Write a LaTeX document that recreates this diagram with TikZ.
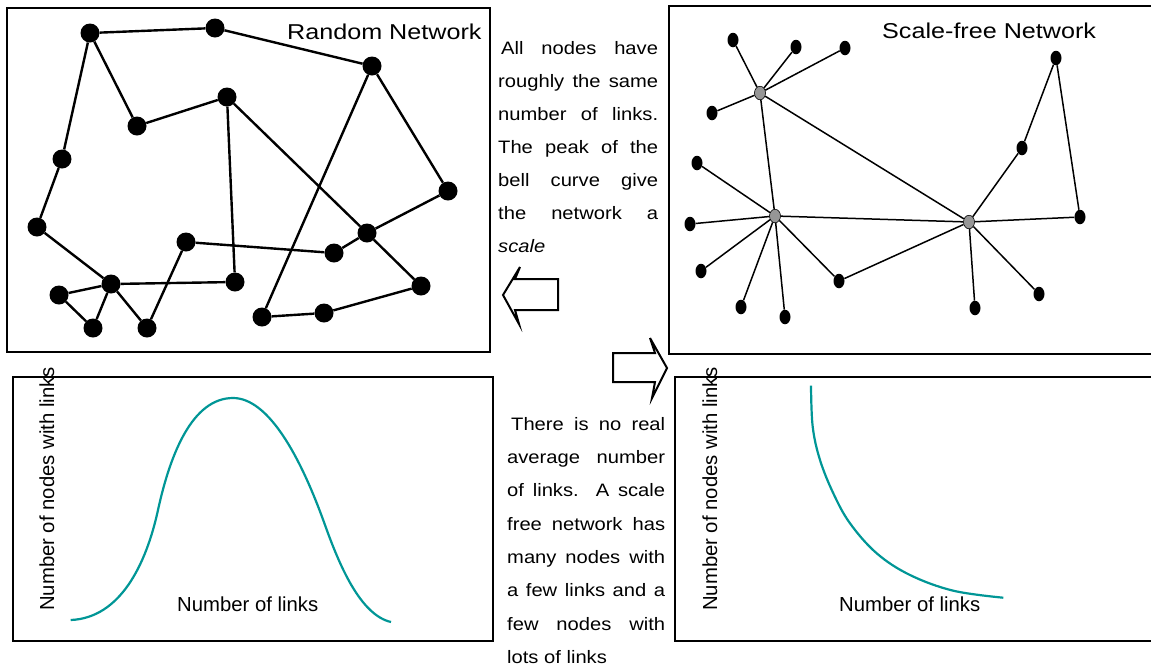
\documentclass[tikz,border=0pt]{standalone}
\usepackage{fontspec}
\setmainfont{Liberation Sans}
\usetikzlibrary{shapes.geometric}
\definecolor{curveteal}{RGB}{0,150,150}
\definecolor{hubgray}{RGB}{150,150,150}
\newcommand\tline[2]{\scalebox{1.12}[1]{\makebox[#1][s]{#2}}}
\begin{document}
\begin{tikzpicture}[x=1pt,y=-1pt,
  panel/.style={draw=black,line width=2pt},
  rnode/.style={circle,fill=black,inner sep=0pt,minimum size=19pt},
  redge/.style={line width=2.4pt},
  snode/.style={ellipse,fill=black,inner sep=0pt,minimum width=11pt,minimum height=14.5pt},
  hub/.style={ellipse,fill=hubgray,draw=black,line width=0.6pt,inner sep=0pt,minimum width=11pt,minimum height=13.5pt},
  sedge/.style={line width=1.5pt},
  curvest/.style={draw=curveteal,line width=2.2pt},
  title/.style={anchor=base west,inner sep=0pt,font=\fontsize{21.5}{25}\selectfont},
  txt/.style={anchor=base west,inner sep=0pt,font=\fontsize{18}{20}\selectfont},
  axis/.style={anchor=base west,inner sep=0pt,font=\fontsize{20.3}{24}\selectfont},
  blockarrow/.style={draw=black,line width=2pt,fill=white,line join=miter}
]
\useasboundingbox (0,0) rectangle (1151,665);
\fill[white] (0,0) rectangle (1151,665);

% panels
\draw[panel] (7,8) rectangle (490,352);
\draw[panel] (669,6) rectangle (1156,354);
\draw[panel] (13,377) rectangle (493,641);
\draw[panel] (675,377) rectangle (1156,641);

% titles
\node[title] (t1) at (287,39) {\scalebox{1.17}[1]{Random Network}};
\node[title] (t2) at (882,38) {\scalebox{1.17}[1]{Scale-free Network}};

% random network
\node[rnode] (ra) at (90,33) {};
\node[rnode] (rb) at (215,28) {};
\node[rnode] (rc) at (372,66) {};
\node[rnode] (rd) at (227,97) {};
\node[rnode] (re) at (137,126) {};
\node[rnode] (rf) at (62,159) {};
\node[rnode] (rg) at (448,191) {};
\node[rnode] (rh) at (37,227) {};
\node[rnode] (ri) at (367,233) {};
\node[rnode] (rj) at (186,242) {};
\node[rnode] (rk) at (334,253) {};
\node[rnode] (rl) at (111,284) {};
\node[rnode] (rm) at (235,282) {};
\node[rnode] (rn) at (421,286) {};
\node[rnode] (ro) at (59,295) {};
\node[rnode] (rp) at (93,328) {};
\node[rnode] (rq) at (147,328) {};
\node[rnode] (rr) at (262,317) {};
\node[rnode] (rs) at (324,313) {};
\foreach \u/\v in {ra/rb,rb/rc,ra/rf,ra/re,re/rd,rd/rm,rd/ri,rc/rg,rc/rr,rg/ri,ri/rk,ri/rn,rk/rj,rj/rq,rf/rh,rh/rl,rl/rm,rl/ro,rl/rp,rl/rq,ro/rp,rn/rs,rs/rr}
  \draw[redge] (\u) -- (\v);

% scale-free network
\node[hub] (h1) at (760,93) {};
\node[hub] (h2) at (775,216) {};
\node[hub] (h3) at (969,222) {};
\node[snode] (a1) at (733,40) {};
\node[snode] (a2) at (796,47) {};
\node[snode] (a3) at (845,48) {};
\node[snode] (a4) at (712,113) {};
\node[snode] (b1) at (697,163) {};
\node[snode] (b2) at (690,224) {};
\node[snode] (b3) at (701,271) {};
\node[snode] (b4) at (741,307) {};
\node[snode] (b5) at (785,317) {};
\node[snode] (c1) at (839,281) {};
\node[snode] (d1) at (1022,148) {};
\node[snode] (d2) at (1056,58) {};
\node[snode] (d3) at (1080,217) {};
\node[snode] (e1) at (975,308) {};
\node[snode] (e2) at (1039,294) {};
\foreach \u/\v in {h1/a1,h1/a2,h1/a3,h1/a4,h1/h2,h1/h3,h2/b1,h2/b2,h2/b3,h2/b4,h2/b5,h2/c1,h2/h3,c1/h3,h3/d1,d1/d2,d2/d3,d3/h3,h3/e1,h3/e2}
  \draw[sedge] (\u) -- (\v);

% middle texts
\node[txt] (m1) at (501,54) {\tline{140pt}{All nodes have}};
\node[txt] (m2) at (498,87) {\tline{142.8pt}{roughly the same}};
\node[txt] (m3) at (498,120) {\tline{142.8pt}{number of links.}};
\node[txt] (m4) at (498,153) {\tline{142.8pt}{The peak of the}};
\node[txt] (m5) at (498,186) {\tline{142.8pt}{bell curve give}};
\node[txt] (m6) at (498,219) {\tline{142.8pt}{the network a}};
\node[txt] (m7) at (498,252) {\scalebox{1.12}[1]{\itshape scale}};

\node[txt] (n1) at (511,430) {\tline{137.5pt}{There is no real}};
\node[txt] (n2) at (507,463.3) {\tline{141pt}{average number}};
\node[txt] (n3) at (507,496.6) {\tline{141pt}{of links. A scale}};
\node[txt] (n4) at (507,530) {\tline{141pt}{free network has}};
\node[txt] (n5) at (507,563.3) {\tline{141pt}{many nodes with}};
\node[txt] (n6) at (507,596.6) {\tline{141pt}{a few links and a}};
\node[txt] (n7) at (507,630) {\tline{141pt}{few nodes with}};
\node[txt] (n8) at (507,663.3) {\scalebox{1.12}[1]{lots of links}};

% block arrows
\draw[blockarrow] (558,279) -- (515,279) -- (520,267) -- (503,295) -- (519,324) -- (515,310) -- (558,310) -- cycle;
\draw[blockarrow] (613,353) -- (655,353) -- (650,338) -- (667,368) -- (652,398) -- (655,382) -- (613,382) -- cycle;

% charts
\draw[curvest] (70.7,620) .. controls (120,618) and (146,565) .. (158,510)
  .. controls (170,455) and (192,398) .. (233,398)
  .. controls (268,398) and (300,455) .. (325,525)
  .. controls (339,564) and (360,615) .. (391,622);
\draw[curvest] plot[smooth,tension=0.6] coordinates {(811,385.7) (812.7,426.7) (820,460) (833.3,493.3) (850,523.3) (876.7,553.3) (910,575) (953.3,590.7) (1003.3,597.7)};

\node[axis] (x1) at (177,611) {Number of links};
\node[axis] (x2) at (839,611) {Number of links};
\node[axis,rotate=90] (y1) at (54,611) {Number of nodes with links};
\node[axis,rotate=90] (y2) at (717,611) {Number of nodes with links};
\end{tikzpicture}
\end{document}
